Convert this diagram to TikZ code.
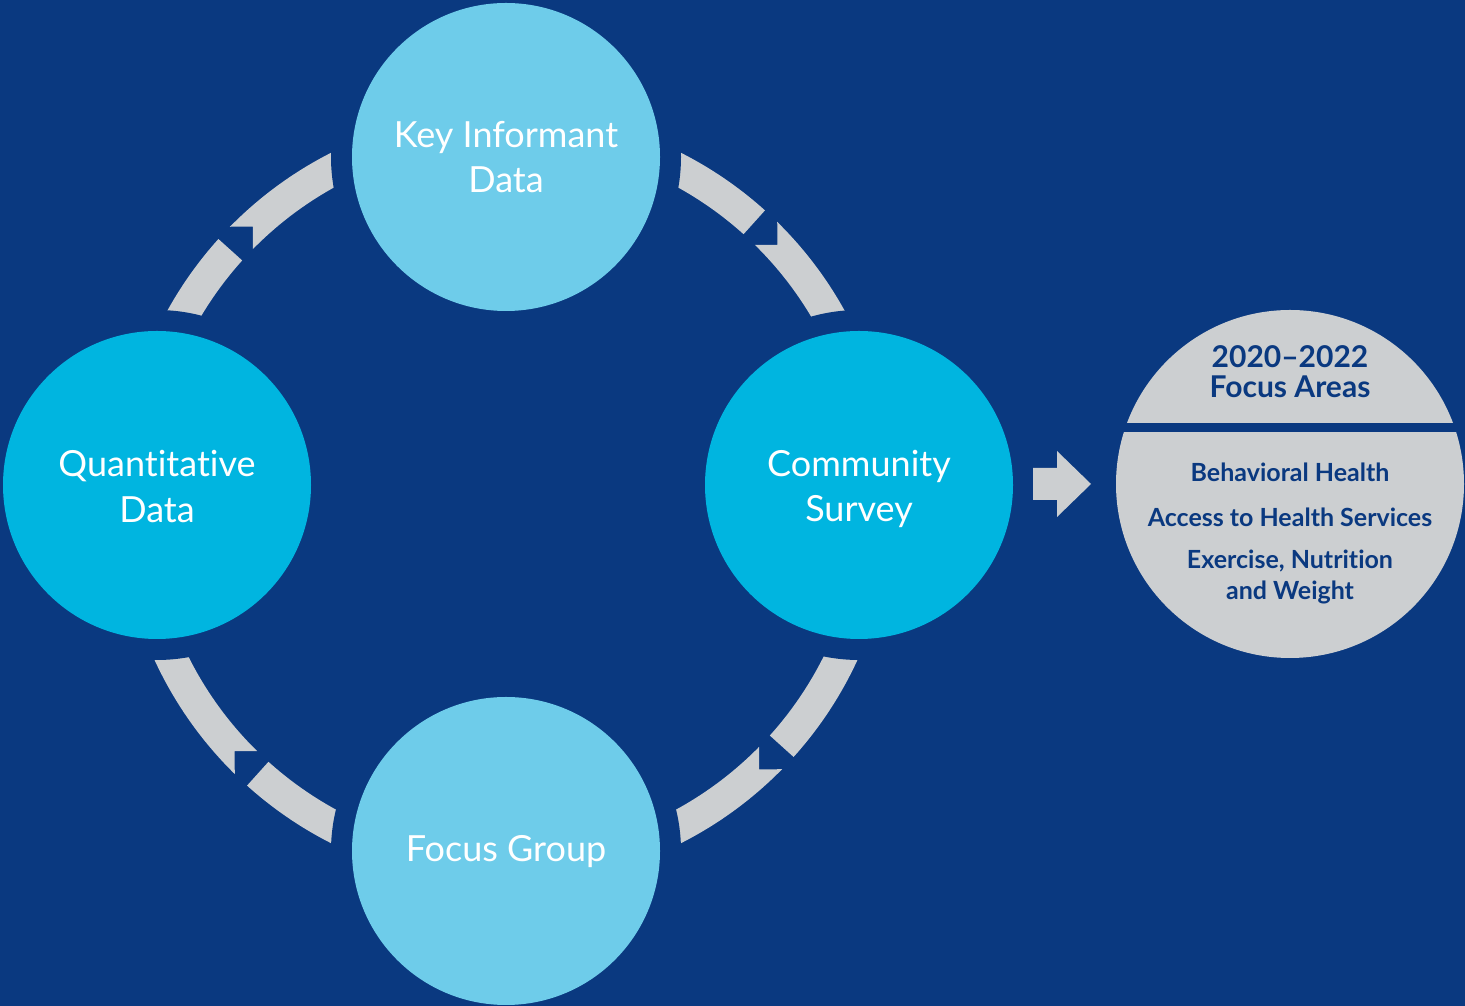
\documentclass[tikz,border=0pt]{standalone}
\usepackage{fontspec}
\setmainfont{Lato}[Ligatures=NoCommon]
\usetikzlibrary{calc}
\definecolor{bg}{HTML}{0A3980}
\definecolor{lightc}{HTML}{6ECCEA}
\definecolor{cyanc}{HTML}{00B5E0}
\definecolor{greyc}{HTML}{CCCFD1}
\begin{document}
\begin{tikzpicture}[x=1pt,y=1pt,
  bubble/.style={circle, minimum size=308pt, inner sep=0pt, draw=none},
  lbl/.style={anchor=base, text=white, inner sep=0pt, font=\fontsize{36}{42}\selectfont},
  ghead/.style={anchor=base, text=bg, inner sep=0pt, font=\bfseries\fontsize{30}{34}\selectfont},
  glbl/.style={anchor=base, text=bg, inner sep=0pt, font=\bfseries\fontsize{25}{29}\selectfont},
  ring/.style={fill=greyc}]
\fill[bg] (0,0) rectangle (1465,1006);
\useasboundingbox (0,0) rectangle (1465,1006);
\coordinate (C) at (506,508);
\coordinate (kc) at (506,849);
\coordinate (qc) at (157,521);
\coordinate (cc) at (859,521);
\coordinate (fc) at (506,155);
% ring segments
\foreach \b in {0,90,180,270}{
  \fill[ring] ([shift={(\b+48:355)}]C) arc[start angle=\b+48, end angle=\b+75, radius=355]
     -- ([shift={(\b+75:387)}]C) arc[start angle=\b+75, end angle=\b+48, radius=387] -- cycle;
  \fill[ring] ([shift={(\b+45.5:387)}]C) arc[start angle=\b+45.5, end angle=\b+15, radius=387]
     -- ([shift={(\b+15:355)}]C) arc[start angle=\b+15, end angle=\b+45.5, radius=355]
     -- ([shift={(\b+43:371)}]C) -- cycle;
}
% clearance around nodes
\foreach \p in {kc,qc,cc,fc}{ \fill[bg] (\p) circle (175); }
% nodes
\node[bubble, fill=lightc] (key) at (kc) {};
\node[bubble, fill=cyanc] (quant) at (qc) {};
\node[bubble, fill=cyanc] (comm) at (cc) {};
\node[bubble, fill=lightc] (focus) at (fc) {};
\node[lbl] (key1) at ([yshift=9]key.center) {Key Informant};
\node[lbl] (key2) at ([yshift=-36]key.center) {Data};
\node[lbl] (quant1) at ([yshift=8]quant.center) {Quantitative};
\node[lbl] (quant2) at ([yshift=-38]quant.center) {Data};
\node[lbl] (comm1) at ([yshift=8]comm.center) {Community};
\node[lbl] (comm2) at ([yshift=-37]comm.center) {Survey};
\node[lbl] (focus1) at ([yshift=-11]focus.center) {Focus Group};
% focus areas circle
\node[circle, minimum size=348pt, inner sep=0pt, fill=greyc] (areas) at (1290,522) {};
\fill[bg] (1100,574) rectangle (1465,583);
\node[ghead] (h1) at (1290,638) {2020–2022};
\node[ghead] (h2) at (1290,608) {Focus Areas};
\node[glbl] (a1) at (1290,524) {Behavioral Health};
\node[glbl] (a2) at (1290,479) {Access to Health Services};
\node[glbl] (a3) at (1290,437) {Exercise, Nutrition};
\node[glbl] (a4) at (1290,406) {and Weight};
% arrow
\coordinate (ar) at (1033,522);
\fill[greyc] ([shift={(0,-16)}]ar) -- ([shift={(24,-16)}]ar) -- ([shift={(24,-33)}]ar)
  -- ([shift={(58,0)}]ar) -- ([shift={(24,33)}]ar) -- ([shift={(24,16)}]ar)
  -- ([shift={(0,16)}]ar) -- cycle;
\end{tikzpicture}
\end{document}
